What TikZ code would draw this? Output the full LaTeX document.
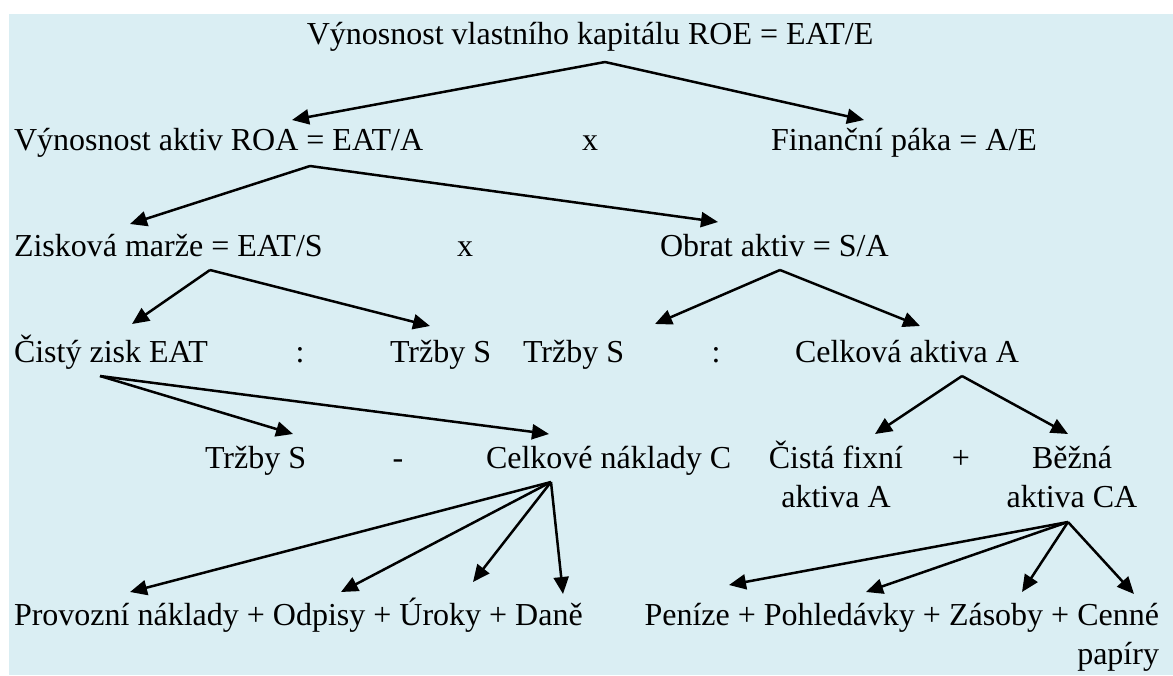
\documentclass[tikz,border=0pt]{standalone}
\usepackage{fontspec}
\setmainfont{Liberation Serif}
\newfontfamily\tnr{Liberation Serif}
\usetikzlibrary{arrows.meta}
\definecolor{bgblue}{HTML}{DAEEF3}
\begin{document}
\begin{tikzpicture}[x=1pt,y=-1pt,
  txt/.style={inner sep=0pt,outer sep=0pt,anchor=base west,font=\tnr\fontsize{32}{39}\selectfont},
  ctxt/.style={txt,anchor=base},
  arr/.style={line width=2.5pt,-{Triangle[length=17pt,width=15pt]}}]
\useasboundingbox (0,0) rectangle (1173,675);
\fill[bgblue] (9,14) rectangle (1173,675);
% row 1
\node[ctxt] (roe) at (590,44) {Výnosnost vlastního kapitálu ROE = EAT/E};
% row 2
\node[txt] (roa) at (14,150) {Výnosnost aktiv ROA = EAT/A};
\node[ctxt] (x1) at (590,150) {x};
\node[txt] (fp) at (771,150) {Finanční páka = A/E};
% row 3
\node[txt] (zm) at (14,256) {Zisková marže = EAT/S};
\node[ctxt] (x2) at (465,256) {x};
\node[txt] (oa) at (660,256) {Obrat aktiv = S/A};
% row 4
\node[txt] (eat) at (14,362) {Čistý zisk EAT};
\node[ctxt] (d1) at (300,362) {:};
\node[txt] (ts1) at (390,362) {Tržby S};
\node[txt] (ts2) at (523,362) {Tržby S};
\node[ctxt] (d2) at (716,362) {:};
\node[txt] (ca) at (795,362) {Celková aktiva A};
% row 5
\node[txt] (ts3) at (205,468) {Tržby S};
\node[ctxt] (m1) at (398,468) {-};
\node[txt] (cn) at (486,468) {Celkové náklady C};
\node[ctxt,align=center] (cfa) at (836,507) {Čistá fixní\\aktiva A};
\node[ctxt] (p1) at (961,468) {+};
\node[ctxt,align=center] (bca) at (1072,507) {Běžná\\aktiva CA};
% row 6
\node[txt] (costs) at (14,625) {Provozní náklady + Odpisy + Úroky + Daně};
\node[txt,anchor=base east,align=right] (assets) at (1159,664) {Peníze + Pohledávky + Zásoby + Cenné\\papíry};
% connector points
\coordinate (roeO) at (605,62);
\coordinate (roaI) at (292,120);
\coordinate (fpI) at (864,120);
\coordinate (roaO) at (310,166);
\coordinate (zmI) at (130,224);
\coordinate (oaI) at (718,222);
\coordinate (zmO) at (210,270);
\coordinate (eatI) at (132,324);
\coordinate (ts1I) at (430,326);
\coordinate (oaO) at (780,270);
\coordinate (ts2I) at (655,324);
\coordinate (caI) at (920,326);
\coordinate (eatO) at (100,376);
\coordinate (ts3I) at (293,434);
\coordinate (cnI) at (549,434);
\coordinate (caO) at (962,376);
\coordinate (cfaI) at (875,434);
\coordinate (bcaI) at (1068,434);
\coordinate (cnO) at (551,482);
\coordinate (c1) at (130,592);
\coordinate (c2) at (341,592);
\coordinate (c3) at (473,582);
\coordinate (c4) at (563,594);
\coordinate (bcaO) at (1068,522);
\coordinate (a1) at (729,585);
\coordinate (a2) at (866,592);
\coordinate (a3) at (1022,592);
\coordinate (a4) at (1134,594);
% connectors
\draw[arr] (roeO) -- (roaI);
\draw[arr] (roeO) -- (fpI);
\draw[arr] (roaO) -- (zmI);
\draw[arr] (roaO) -- (oaI);
\draw[arr] (zmO) -- (eatI);
\draw[arr] (zmO) -- (ts1I);
\draw[arr] (oaO) -- (ts2I);
\draw[arr] (oaO) -- (caI);
\draw[arr] (eatO) -- (ts3I);
\draw[arr] (eatO) -- (cnI);
\draw[arr] (caO) -- (cfaI);
\draw[arr] (caO) -- (bcaI);
\draw[arr] (cnO) -- (c1);
\draw[arr] (cnO) -- (c2);
\draw[arr] (cnO) -- (c3);
\draw[arr] (cnO) -- (c4);
\draw[arr] (bcaO) -- (a1);
\draw[arr] (bcaO) -- (a2);
\draw[arr] (bcaO) -- (a3);
\draw[arr] (bcaO) -- (a4);
\end{tikzpicture}
\end{document}
